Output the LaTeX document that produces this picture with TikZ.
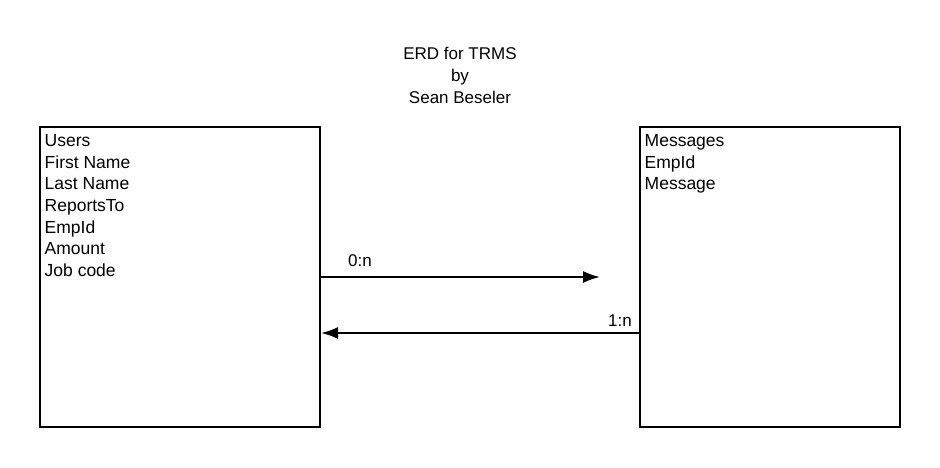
\documentclass[tikz,border=0pt]{standalone}
\usepackage{fontspec}
\setmainfont{Liberation Sans}
\usetikzlibrary{arrows.meta,positioning}
\tikzset{
  entity/.style={draw,line width=2pt,inner sep=0pt},
  attrs/.style={anchor=north west,inner sep=0pt,align=left,font=\fontsize{17.5}{21.6}\selectfont},
  rel/.style={line width=2pt,-{Latex[length=17pt,width=12pt]}},
  card/.style={anchor=base west,inner sep=0pt,font=\fontsize{17}{19}\selectfont}
}
\begin{document}
\begin{tikzpicture}[x=1pt,y=-1pt]
\useasboundingbox (0,0) rectangle (940,467);
%%First place the title and the boxes
\node[attrs,anchor=north,align=center,font=\fontsize{17}{22}\selectfont] (title) at (460,46.5) {ERD for TRMS\\by\\Sean Beseler};
\node[entity,minimum width=280pt,minimum height=300pt] (users) at (180,277) {};
\node[entity,minimum width=260pt,minimum height=300pt] (messages) at (770,277) {};
%%Then the fields
\node[attrs] (users-fields) at ([shift={(5.5,8.5)}]users.north west)
  {Users\\First Name\\Last Name\\ReportsTo\\EmpId\\Amount\\Job code};
\node[attrs] (messages-fields) at ([shift={(5.5,8.5)}]messages.north west)
  {Messages\\EmpId\\Message};
%%Draw the relations
\coordinate (msg-in) at (600,277);
\coordinate (usr-in) at (321,333);
\draw[rel] (users.east |- msg-in) -- (msg-in);
\draw[rel] (messages.west |- usr-in) -- (usr-in);
\node[card] (card-0n) at (348,266) {0:n};
\node[card] (card-1n) at (608,326) {1:n};
\end{tikzpicture}
\end{document}
